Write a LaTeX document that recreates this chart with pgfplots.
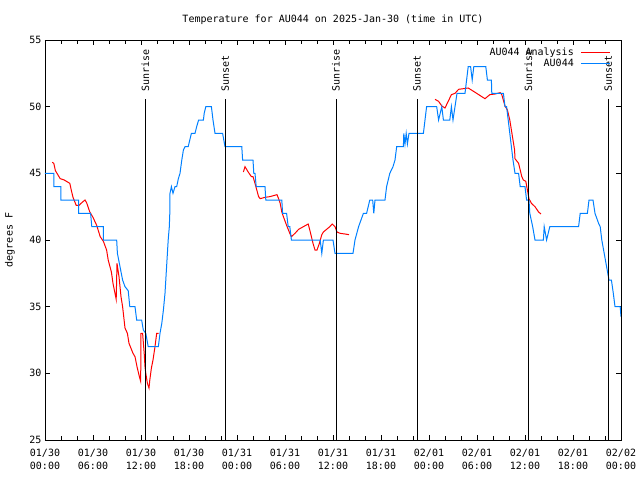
\documentclass[border=0pt]{standalone}
\usepackage{fontspec}
\setmainfont{DejaVu Sans Mono}
\usepackage{pgfplots}
\pgfplotsset{compat=1.18}
\definecolor{gpred}{RGB}{255,0,0}
\definecolor{gpblue}{RGB}{0,128,255}

\begin{document}
\begin{tikzpicture}[font=\fontsize{10}{12}\selectfont]
\useasboundingbox (-45pt,-40pt) rectangle (595pt,440pt);
\begin{axis}[
  at={(0,0)}, anchor=south west,
  scale only axis, width=576pt, height=400pt,
  xmin=0, xmax=72, ymin=25, ymax=55,
  xtick={0,6,...,72},
  xticklabels={{01/30\\00:00},{01/30\\06:00},{01/30\\12:00},{01/30\\18:00},
               {01/31\\00:00},{01/31\\06:00},{01/31\\12:00},{01/31\\18:00},
               {02/01\\00:00},{02/01\\06:00},{02/01\\12:00},{02/01\\18:00},
               {02/02\\00:00}},
  minor x tick num=2,
  ytick={25,30,...,55},
  /pgf/number format/assume math mode=true,
  axis line style={black, line width=0.8pt},
  every tick/.style={black, line width=0.8pt},
  major tick length=5pt, minor tick length=4pt,
  xticklabel style={align=center, font=\fontsize{10}{12.5}\selectfont, yshift=-6pt},
  title={Temperature for AU044 on 2025-Jan-30 (time in UTC)},
  every axis title/.style={at={(axis description cs:0.5,1)}, anchor=center, yshift=20pt},
  ylabel={degrees F},
  every axis y label/.style={at={(axis description cs:0,0.5)}, xshift=-35pt, rotate=90, anchor=center},
  unbounded coords=jump,
  legend style={draw=none, fill=none, at={(axis description cs:1,1)}, anchor=north east,
                xshift=-7pt, yshift=-4.5pt, nodes={inner sep=1pt}, column sep=6pt},
  legend cell align=right,
  legend plot pos=right,
  legend image code/.code={\draw[#1] (0pt,0pt) -- (29pt,0pt);},
]
% analysis
\addplot[gpred, line width=1pt] coordinates {
 (0.9,45.83) (1.1,45.75) (1.3,45.2) (1.9,44.6) (2.4,44.5) (3.1,44.25) (3.3,43.7)
 (3.5,43.2) (3.9,42.6) (4.25,42.6) (4.6,42.8) (5.0,43.0) (5.2,42.8) (5.6,42.1)
 (6.0,41.7) (6.46,41.1) (6.9,40.25) (7.3,39.9) (7.7,39.25) (7.9,38.5) (8.3,37.6)
 (8.5,36.75) (8.9,35.55) (9.0,38.25) (9.25,37.25) (9.5,35.75) (9.7,35) (10.0,33.4)
 (10.3,33.0) (10.5,32.25) (11.0,31.5) (11.25,31.25) (11.5,30.5) (11.8,29.75)
 (11.96,29.4) (12.0,33.0) (12.2,33) (12.4,31.5) (12.5,30.5) (12.6,30.0) (12.8,29.25)
 (13.0,28.9) (13.1,29.5) (13.3,30.4) (13.5,31) (13.75,32) (13.96,33) (14.2,33)
 (20,nan)
 (24.8,45.1) (25.0,45.5) (25.4,45.1) (25.8,44.75) (26.0,44.75) (26.25,44.25)
 (26.7,43.25) (26.9,43.1) (27.5,43.2) (28.1,43.25) (29.0,43.4) (29.2,43.1)
 (29.4,42.75) (29.6,42.1) (29.8,41.75) (30.2,41.1) (30.6,40.5) (30.8,40.25)
 (31.25,40.5) (31.7,40.8) (32.3,41.0) (32.9,41.2) (33.1,40.75) (33.5,39.75)
 (33.75,39.25) (34.0,39.25) (34.3,39.75) (34.6,40.4) (34.8,40.6) (35.2,40.8)
 (35.6,41.0) (35.9,41.2) (36.25,41.0) (36.5,40.6) (36.9,40.5) (37.5,40.45) (38.0,40.4)
 (44,nan)
 (48.75,50.55) (49.2,50.4) (49.6,50.05) (50.0,49.9) (50.4,50.4) (50.8,50.9)
 (51.25,51.0) (51.7,51.3) (52.9,51.4) (53.3,51.25) (53.96,51.0) (54.6,50.75)
 (55.0,50.6) (55.6,50.9) (56.25,50.95) (56.9,51.05) (57.1,50.9) (57.5,50.05)
 (57.8,49.75) (58.1,49.0) (58.3,48.25) (58.5,47.5) (58.7,46.75) (58.75,46.1)
 (59.2,45.75) (59.6,44.75) (59.8,44.5) (60.1,44.4) (60.3,43.75) (60.5,43.1)
 (60.8,42.75) (61.25,42.5) (61.7,42.1) (62.0,41.95)
};
\addlegendentry{AU044 Analysis}
% observations
\addplot[gpblue, line width=1pt] coordinates {
 (0,45) (1.1,45) (1.1,44) (2.0,44) (2.0,43) (4.2,43) (4.2,42) (5.7,42) (5.85,41)
 (7.3,41) (7.3,40) (8.96,40) (9.05,39) (9.375,38) (9.7,37) (10.0,36.5) (10.4,36.2)
 (10.6,35) (11.25,35) (11.46,34) (12.08,34) (12.29,33.25) (12.6,33) (12.9,32)
 (14.17,32) (14.375,33) (14.6,33.75) (14.8,34.75) (15.0,36) (15.2,38) (15.4,40)
 (15.54,41) (15.6,42) (15.625,43.5) (15.8,44) (16.0,43.5) (16.25,44) (16.46,44)
 (16.67,44.6) (16.875,45) (17.1,46) (17.3,46.75) (17.5,47) (17.9,47) (18.1,47.5)
 (18.3,48) (18.75,48) (18.96,48.5) (19.2,49) (19.8,49) (19.9,49.5) (20.1,50)
 (20.8,50) (21.0,49) (21.25,48) (22.2,48) (22.5,47) (24.6,47) (24.7,46) (26.0,46)
 (26.1,45) (26.25,45) (26.4,44) (27.5,44) (27.6,43) (29.6,43) (29.7,42) (30.2,42)
 (30.4,41) (30.6,41) (30.8,40) (34.4,40) (34.6,39) (34.8,40) (36.0,40) (36.25,39)
 (38.5,39) (38.75,40) (39.2,41) (39.8,42) (40.2,42) (40.6,43) (40.96,43) (41.1,42)
 (41.25,43) (42.5,43) (42.7,44) (43.1,45) (43.5,45.5) (43.75,46) (43.96,47)
 (44.8,47) (44.85,48) (45.0,47.2) (45.15,48) (45.3,47.2) (45.5,48) (47.3,48)
 (47.5,49) (47.7,50) (48.96,50) (49.2,49) (49.6,50) (49.8,49) (50.6,49) (50.8,50)
 (51.0,49) (51.25,50) (51.5,51) (52.5,51) (52.7,52) (52.9,53) (53.2,53) (53.4,52)
 (53.6,53) (55.1,53) (55.3,52) (55.8,52) (55.85,51) (57.3,51) (57.5,50) (57.7,50)
 (57.9,49) (58.1,48) (58.3,47) (58.5,46) (58.75,45) (59.2,45) (59.4,44) (60.0,44)
 (60.2,43) (60.5,43) (60.6,42) (60.96,41) (61.25,40) (62.3,40) (62.4,41) (62.7,40)
 (62.9,40.5) (63.1,41) (66.7,41) (66.9,42) (67.8,42) (68.0,43) (68.5,43) (68.75,42)
 (69.2,41.25) (69.4,41) (69.6,40) (69.9,39) (70.2,38) (70.5,37) (70.8,37)
 (71.04,36) (71.25,35) (71.9,35) (72,34.25)
};
\addlegendentry{AU044}
% sunrise / sunset markers
\addplot[black, line width=0.8pt, forget plot] coordinates {(12.54,25) (12.54,50.575)};
\addplot[black, line width=0.8pt, forget plot] coordinates {(22.54,25) (22.54,50.575)};
\addplot[black, line width=0.8pt, forget plot] coordinates {(36.375,25) (36.375,50.575)};
\addplot[black, line width=0.8pt, forget plot] coordinates {(46.5,25) (46.5,50.575)};
\addplot[black, line width=0.8pt, forget plot] coordinates {(60.42,25) (60.42,50.575)};
\addplot[black, line width=0.8pt, forget plot] coordinates {(70.42,25) (70.42,50.575)};
\node[rotate=90, anchor=west, inner sep=0pt] at (axis cs:12.54,51.1) {Sunrise};
\node[rotate=90, anchor=west, inner sep=0pt] at (axis cs:22.54,51.1) {Sunset};
\node[rotate=90, anchor=west, inner sep=0pt] at (axis cs:36.375,51.1) {Sunrise};
\node[rotate=90, anchor=west, inner sep=0pt] at (axis cs:46.5,51.1) {Sunset};
\node[rotate=90, anchor=west, inner sep=0pt] at (axis cs:60.42,51.1) {Sunrise};
\node[rotate=90, anchor=west, inner sep=0pt] at (axis cs:70.42,51.1) {Sunset};
\end{axis}
\end{tikzpicture}
\end{document}
